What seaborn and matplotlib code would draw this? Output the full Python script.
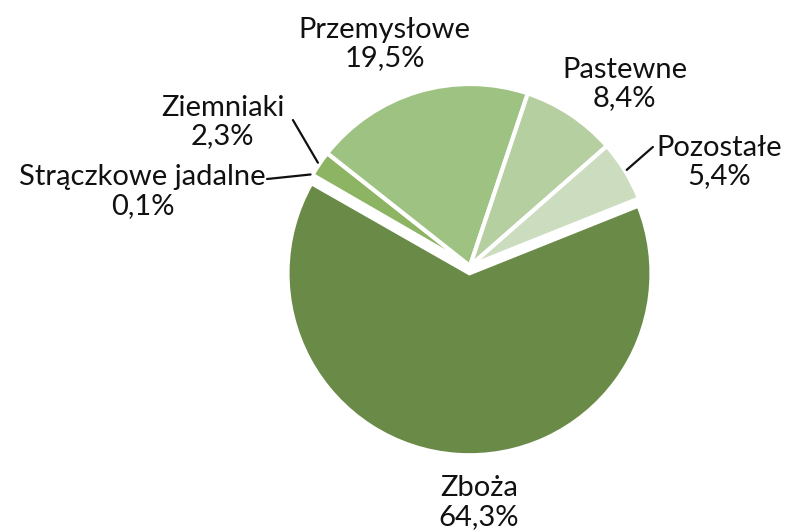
import numpy as np
import seaborn as sns
import matplotlib.pyplot as plt

sns.set_theme(style="white")
plt.rcParams['font.family'] = ['Lato', 'DejaVu Sans']

# data (clockwise order, starting from the right edge of Zboża)
categories = ['Zboża', 'Strączkowe jadalne', 'Ziemniaki', 'Przemysłowe', 'Pastewne', 'Pozostałe']
shares = [64.3, 0.1, 2.3, 19.5, 8.4, 5.4]

colors = ['#6a8a48', '#7fa457', '#8db463', '#9dc281', '#b6cfa1', '#ccdcbf']
explode = [0.04, 0, 0, 0, 0, 0]

# label layout (data coords, pie radius = 1)
text_pos = {
    'Zboża': (0.05, -1.30),
    'Strączkowe jadalne': (-1.80, 0.41),
    'Ziemniaki': (-1.36, 0.79),
    'Przemysłowe': (-0.47, 1.22),
    'Pastewne': (0.85, 1.00),
    'Pozostałe': (1.37, 0.57),
}
leader_start = {
    'Strączkowe jadalne': (-1.115, 0.478),
    'Ziemniaki': (-0.973, 0.802),
    'Pozostałe': (1.005, 0.654),
}

fig = plt.figure(figsize=(7.9, 5.3), dpi=100)
ax = fig.add_axes([0, 0, 1, 1])

wedges, _ = ax.pie(shares, colors=colors, explode=explode, startangle=21.8,
                   counterclock=False, radius=1,
                   wedgeprops=dict(edgecolor='white', linewidth=3))

for w, name, val in zip(wedges, categories, shares):
    tx, ty = text_pos[name]
    label = f"{name}\n{val:.1f}%".replace('.', ',')
    ax.text(tx, ty, label, ha='center', va='center', fontsize=21,
            linespacing=1.12, color='#111111')
    if name in leader_start:
        mid = np.deg2rad((w.theta1 + w.theta2) / 2)
        cx, cy = w.center
        ex, ey = cx + 1.01 * np.cos(mid), cy + 1.01 * np.sin(mid)
        sx, sy = leader_start[name]
        ax.plot([sx, ex], [sy, ey], color='#111111', lw=1.6)

scale = 182
ax.set_xlim(-470 / scale, 320 / scale)
ax.set_ylim(-264 / scale, 266 / scale)
ax.set_aspect('equal')
ax.axis('off')

fig.savefig('out.png', dpi=100)
